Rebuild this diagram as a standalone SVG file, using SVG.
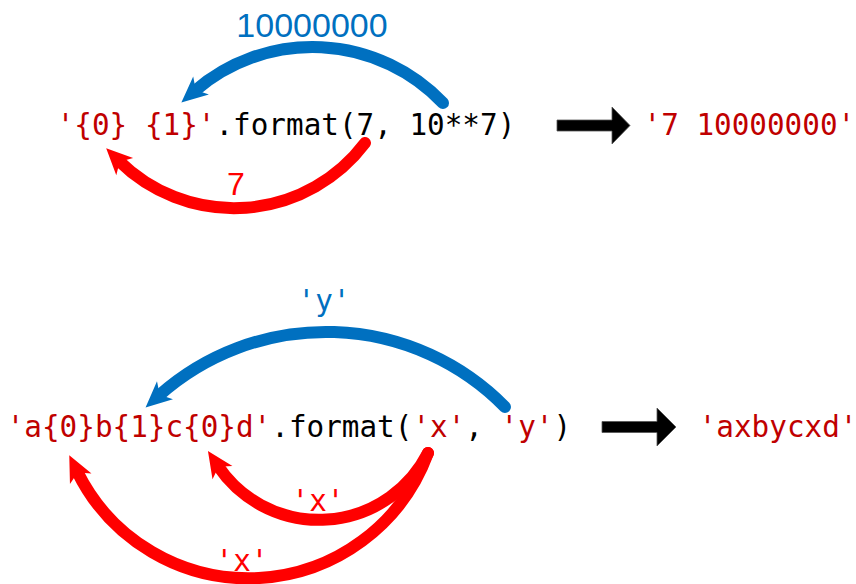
<svg xmlns="http://www.w3.org/2000/svg" width="856" height="584" viewBox="0 0 856 584">
<style>
.code{font-family:"DejaVu Sans Mono","Liberation Mono",monospace;font-size:29.3px;white-space:pre}
.str{fill:#C00000}
.blk{fill:#000000}
.lab{font-family:"Liberation Sans",Arial,sans-serif;text-anchor:middle}
.blue{fill:#0070C0}
.red{fill:#FF0000}
.arc{fill:none;stroke-width:12;stroke-linecap:round}
.ab{stroke:#0070C0;marker-end:url(#mb)}
.ar{stroke:#FF0000;marker-end:url(#mr)}
.big{fill:#000000;stroke:#555555;stroke-width:0.8}
</style>
<defs>
<marker id="mb" viewBox="-28 -14 30 28" markerWidth="30" markerHeight="28" refX="-18" refY="0" orient="auto" markerUnits="userSpaceOnUse" overflow="visible">
<path d="M0,0 L-26,-12 L-19,0 L-26,12 Z" fill="#0070C0"/>
</marker>
<marker id="mr" viewBox="-28 -14 30 28" markerWidth="30" markerHeight="28" refX="-18" refY="0" orient="auto" markerUnits="userSpaceOnUse" overflow="visible">
<path d="M0,0 L-26,-12 L-19,0 L-26,12 Z" fill="#FF0000"/>
</marker>
</defs>
<rect width="856" height="584" fill="#FFFFFF"/>
<g id="expr1">
<text class="code" x="56.7" y="135"><tspan class="str">'{0} {1}'</tspan><tspan class="blk">.format(7, 10**7)</tspan></text>
</g>
<g id="result1">
<text class="code str" x="643.5" y="135">'7 10000000'</text>
</g>
<g id="expr2">
<text class="code" x="6.7" y="437"><tspan class="str">'a{0}b{1}c{0}d'</tspan><tspan class="blk">.format(</tspan><tspan class="str">'x'</tspan><tspan class="blk">, </tspan><tspan class="str">'y'</tspan><tspan class="blk">)</tspan></text>
</g>
<g id="result2">
<text class="code str" x="698.7" y="437">'axbycxd'</text>
</g>
<g id="connectors">
<path class="arc ab" d="M443,103 A180,180 0 0 0 195,90.7"/>
<path class="arc ar" d="M365,143 A164,164 0 0 1 119,161"/>
<path class="arc ab" d="M505,407 A251,251 0 0 0 159,395.5"/>
<path class="arc ar" d="M428,453 A122,122 0 0 1 218,466"/>
<path class="arc ar" d="M428,453 A191,191 0 0 1 77.2,471.5"/>
<polygon class="big" points="557,120 612,120 612,107 630,125.5 612,144 612,131 557,131"/>
<polygon class="big" points="602,421.5 657,421.5 657,408 676,427 657,446 657,432.5 602,432.5"/>
</g>
<g id="labels">
<text class="lab blue" x="312" y="37" font-size="34">10000000</text>
<text class="lab red" x="236" y="195" font-size="32">7</text>
<text class="code blue" x="324" y="311" text-anchor="middle">'y'</text>
<text class="code red" x="318" y="511" text-anchor="middle">'x'</text>
<text class="code red" x="242" y="571" text-anchor="middle">'x'</text>
</g>
</svg>
